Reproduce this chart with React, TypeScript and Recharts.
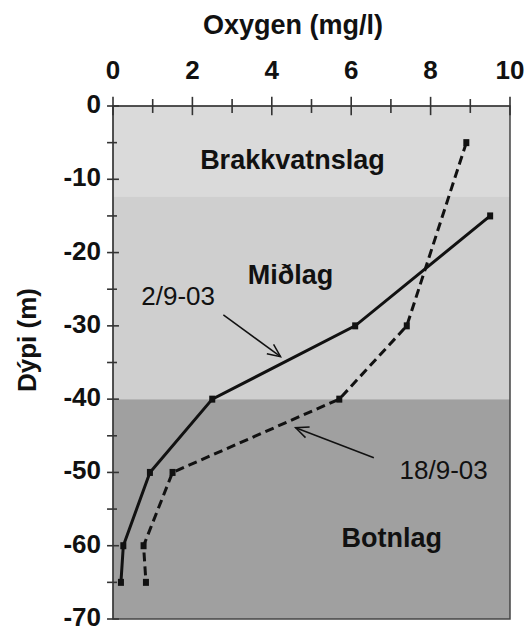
import { ComposedChart, Line, XAxis, YAxis, ReferenceArea, ReferenceLine, ReferenceDot } from "recharts";

// 2/9-03 profile
const oxygen0209 = [9.5, 6.1, 2.5, 0.93, 0.26, 0.2];
const depth0209 = [-15, -30, -40, -50, -60, -65];
// 18/9-03 profile
const oxygen1809 = [8.9, 7.4, 5.7, 1.5, 0.77, 0.83];
const depth1809 = [-5, -30, -40, -50, -60, -65];

const xTicks = [0, 1, 2, 3, 4, 5, 6, 7, 8, 9, 10];
const yTicks = [0, -5, -10, -15, -20, -25, -30, -35, -40, -45, -50, -55, -60, -65, -70];

const layers = [
  { name: "Brakkvatnslag", top: 0, bottom: -12.3, fill: "#dadada" },
  { name: "Miðlag", top: -12.3, bottom: -40, fill: "#cfcfcf" },
  { name: "Botnlag", top: -40, bottom: -70, fill: "#a0a0a0" },
];

const series0209 = oxygen0209.map((o, i) => ({ oxygen: o, depth: depth0209[i] }));
const series1809 = oxygen1809.map((o, i) => ({ oxygen: o, depth: depth1809[i] }));

const W = 524;
const H = 631;
const TICK = 8;
const FONT = "'Liberation Sans', Arial, sans-serif";

// labels only; the crossing tick marks are drawn as reference segments below
const XTick = (p: any) => {
  const v = p.payload.value;
  if (v % 2 !== 0) return <g />;
  return (
    <text x={p.x} y={p.y + TICK - 27} textAnchor="middle" fontFamily={FONT} fontWeight="bold" fontSize={26} fill="#111">
      {v}
    </text>
  );
};

const YTick = (p: any) => {
  const v = p.payload.value;
  if (v % 10 !== 0) return <g />;
  return (
    <text x={p.x + TICK - 12} y={p.y + 7} textAnchor="end" fontFamily={FONT} fontWeight="bold" fontSize={26} fill="#111">
      {v}
    </text>
  );
};

const Seg = (p: any) => (
  <line x1={p.x1} y1={p.y1} x2={p.x2} y2={p.y2} stroke="#333" strokeWidth={1.6} />
);

const Marker = (p: any) => {
  if (p.cx == null || p.cy == null) return <g />;
  return <rect x={p.cx - 3} y={p.cy - 3.5} width={6} height={7} fill="#111" />;
};

const Arrow = (p: any) => {
  const { x1, y1, x2, y2 } = p;
  const a = Math.atan2(y2 - y1, x2 - x1);
  const s = 14;
  const w = 0.42;
  const l = `${x2 - s * Math.cos(a - w)},${y2 - s * Math.sin(a - w)}`;
  const r = `${x2 - s * Math.cos(a + w)},${y2 - s * Math.sin(a + w)}`;
  return (
    <g>
      <line x1={x1} y1={y1} x2={x2} y2={y2} stroke="#111" strokeWidth={1.5} />
      <polyline points={`${l} ${x2},${y2} ${r}`} fill="none" stroke="#111" strokeWidth={1.5} />
    </g>
  );
};

const label = (text: string, bold: boolean) => (p: any) =>
  (
    <text
      x={p.cx}
      y={p.cy}
      textAnchor="middle"
      dominantBaseline="central"
      fontFamily={FONT}
      fontWeight={bold ? "bold" : "normal"}
      fontSize={bold ? 27 : 26}
      fill="#111"
    >
      {text}
    </text>
  );

export default function App() {
  return (
    <div style={{ position: "absolute", left: 0, top: 0, width: W, height: H }}>
      <ComposedChart width={W} height={H} margin={{ top: 0, right: 14, bottom: 12, left: 0 }}>
        {layers.map((l) => (
          <ReferenceArea key={l.name} x1={0} x2={10} y1={l.bottom} y2={l.top} fill={l.fill} fillOpacity={1} stroke="none" />
        ))}
        <ReferenceArea x1={0} x2={10} y1={-70} y2={0} fill="none" stroke="#444" strokeWidth={1.5} />
        <XAxis
          dataKey="oxygen"
          type="number"
          orientation="top"
          domain={[0, 10]}
          ticks={xTicks}
          interval={0}
          height={106}
          tickSize={TICK}
          tickMargin={0}
          tickLine={false}
          stroke="#333"
          tick={XTick}
          label={() => (
            <text x={293} y={34} textAnchor="middle" fontFamily={FONT} fontWeight="bold" fontSize={27} fill="#111">
              Oxygen (mg/l)
            </text>
          )}
        />
        <YAxis
          dataKey="depth"
          type="number"
          domain={[-70, 0]}
          ticks={yTicks}
          interval={0}
          width={113}
          tickSize={TICK}
          tickMargin={0}
          tickLine={false}
          stroke="#333"
          tick={YTick}
          label={() => (
            <text
              x={27}
              y={340}
              transform="rotate(-90, 27, 340)"
              textAnchor="middle"
              dominantBaseline="central"
              fontFamily={FONT}
              fontWeight="bold"
              fontSize={26}
              fill="#111"
            >
              Dýpi (m)
            </text>
          )}
        />
        {xTicks.map((v) => {
          const d = v % 2 === 0 ? 1.25 : 0.95;
          return (
            <ReferenceLine
              key={`xt${v}`}
              segment={[{ x: v, y: d }, { x: v, y: -d }]}
              ifOverflow="visible"
              shape={Seg}
            />
          );
        })}
        {yTicks.map((v) => (
          <ReferenceLine
            key={`yt${v}`}
            segment={[{ x: -0.15, y: v }, { x: v % 10 === 0 ? 0.15 : 0.1, y: v }]}
            ifOverflow="visible"
            shape={Seg}
          />
        ))}
        <ReferenceDot x={4.52} y={-7.4} r={0} shape={label("Brakkvatnslag", true)} />
        <ReferenceDot x={4.47} y={-23} r={0} shape={label("Miðlag", true)} />
        <ReferenceDot x={7.02} y={-58.9} r={0} shape={label("Botnlag", true)} />
        <ReferenceDot x={1.64} y={-25.9} r={0} shape={label("2/9-03", false)} />
        <ReferenceDot x={8.33} y={-49.7} r={0} shape={label("18/9-03", false)} />
        <ReferenceLine segment={[{ x: 2.78, y: -28.5 }, { x: 4.22, y: -34.2 }]} shape={Arrow} />
        <ReferenceLine segment={[{ x: 6.57, y: -48 }, { x: 4.6, y: -43.9 }]} shape={Arrow} />
        <Line
          data={series0209}
          dataKey="depth"
          stroke="#111"
          strokeWidth={3}
          dot={Marker}
          activeDot={false}
          isAnimationActive={false}
        />
        <Line
          data={series1809}
          dataKey="depth"
          stroke="#111"
          strokeWidth={3}
          strokeDasharray="9 5"
          dot={Marker}
          activeDot={false}
          isAnimationActive={false}
        />
      </ComposedChart>
    </div>
  );
}
